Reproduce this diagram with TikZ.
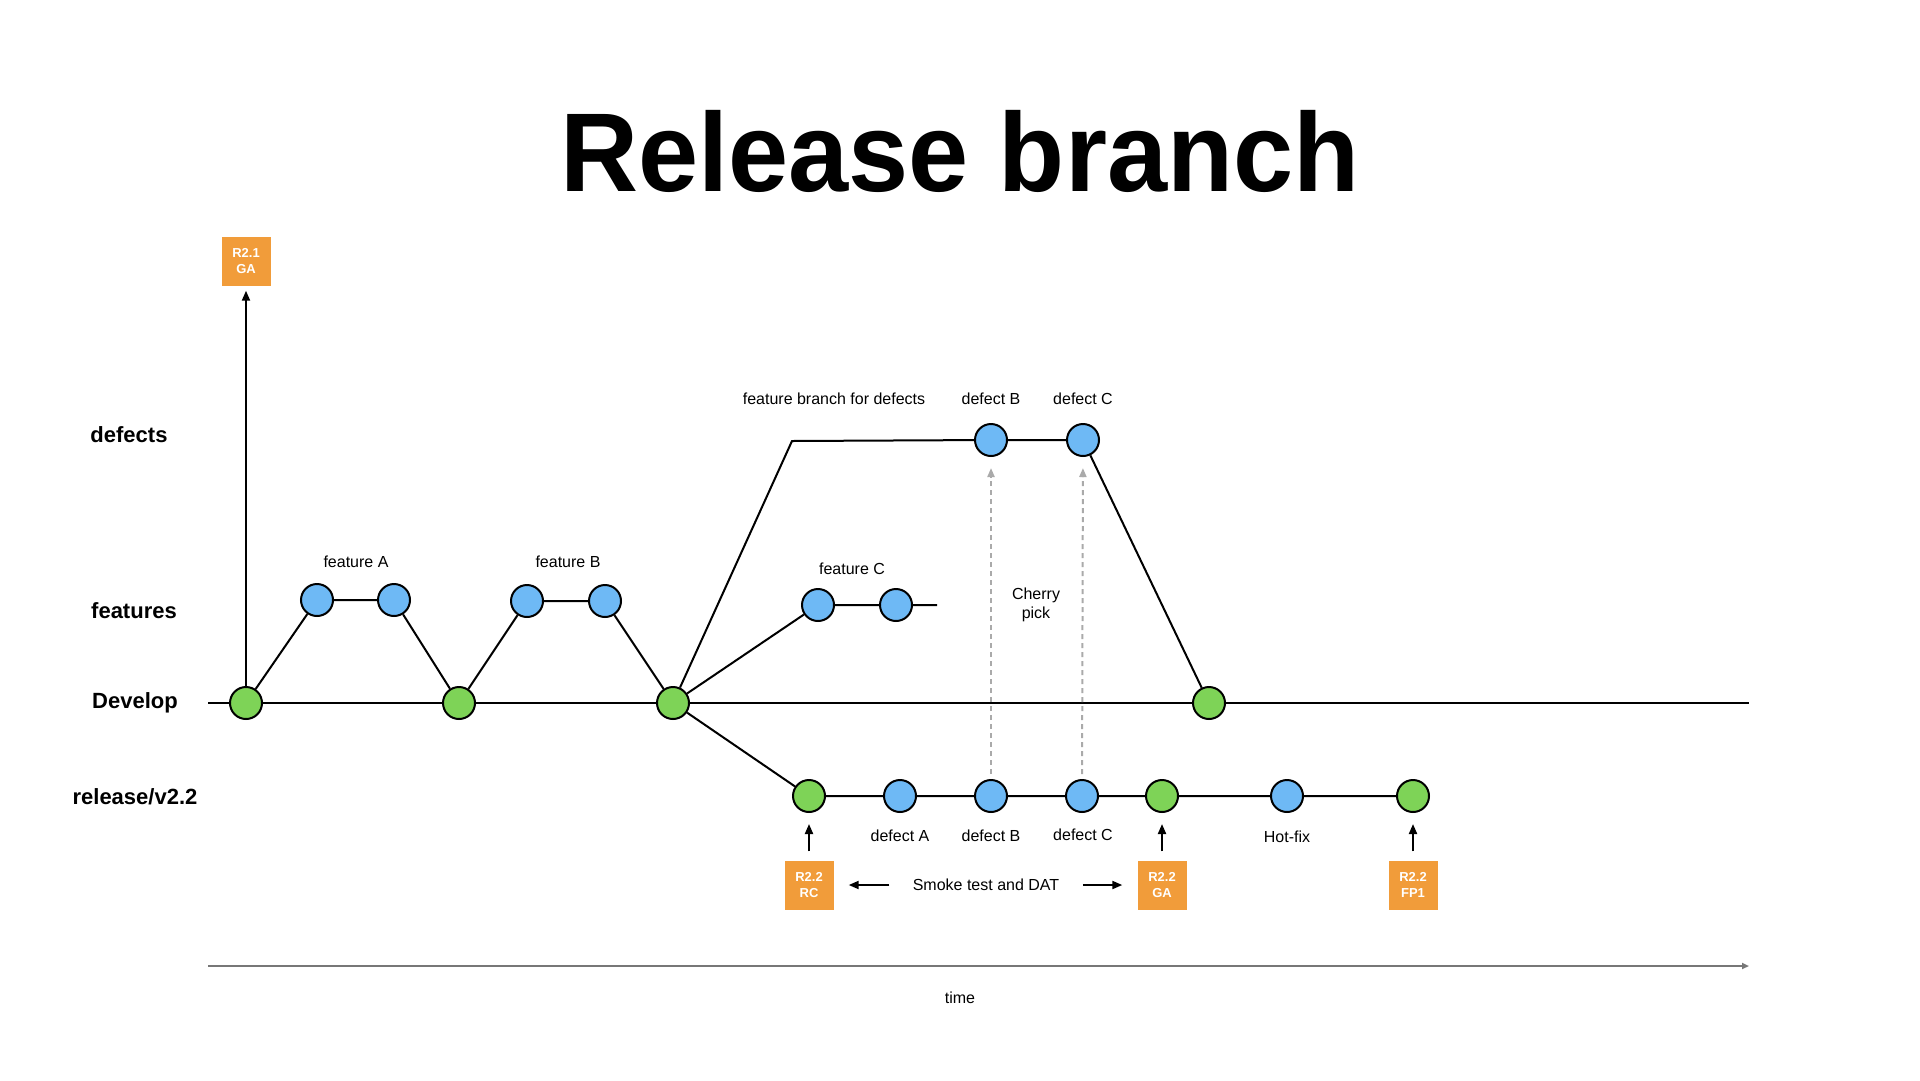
\documentclass[tikz,border=0pt]{standalone}
\usepackage{fontspec}
\setmainfont{Liberation Sans}
\usetikzlibrary{arrows.meta}
\definecolor{fixblue}{HTML}{6EB9F5}
\definecolor{mergegreen}{HTML}{7ED357}
\definecolor{tagorange}{HTML}{F19C3A}
\definecolor{pickgray}{HTML}{AAAAAA}
\definecolor{axisgray}{HTML}{777777}
\begin{document}
\begin{tikzpicture}[x=1pt, y=-1pt,
commit/.style={circle, draw, line width=2pt, minimum size=32pt, inner sep=0pt},
fix/.style={commit, fill=fixblue},
merge/.style={commit, fill=mergegreen},
tag/.style={fill=tagorange, text=white, minimum size=49pt, inner sep=0pt, align=center, font=\fontsize{13}{16}\selectfont\bfseries},
lbl/.style={font=\fontsize{16}{18.5}\selectfont, align=center},
lane/.style={font=\fontsize{22}{26}\selectfont\bfseries},
branch/.style={line width=2pt},
arrow/.style={-{Triangle[length=10pt,width=8pt]}, line width=2pt},
pick/.style={-{Triangle[length=9pt,width=7pt]}, line width=2pt, pickgray, dash pattern=on 5pt off 4pt}
]
\useasboundingbox (0,0) rectangle (1920,1080);
\node[font=\fontsize{112}{120}\selectfont\bfseries, xscale=0.965, transform shape] (title) at (960,151) {Release branch};
\node[lane] (defects) at (129,435) {defects};
\node[lane] (features) at (134,611) {features};
\node[lane] (develop) at (135,703) {Develop};
\node[lane] (release) at (135,797) {release/v2.2};
\coordinate (devstart) at (208,703);
\coordinate (devend) at (1749,703);
\node[merge] (dev1) at (246,703) {};
\node[merge] (dev2) at (459,703) {};
\node[merge] (dev3) at (673,703) {};
\node[merge] (dev4) at (1209,703) {};
\node[fix] (featA1) at (317,600) {};
\node[fix] (featA2) at (394,600) {};
\node[fix] (featB1) at (527,601) {};
\node[fix] (featB2) at (605,601) {};
\node[fix] (featC1) at (818,605) {};
\node[fix] (featC2) at (896,605) {};
\coordinate (featCend) at (937,605);
\coordinate (defcorner) at (792,441);
\node[fix] (defB) at (991,440) {};
\node[fix] (defC) at (1083,440) {};
\node[merge] (rel1) at (809,796) {};
\node[fix] (relA) at (900,796) {};
\node[fix] (relB) at (991,796) {};
\node[fix] (relC) at (1082,796) {};
\node[merge] (rel2) at (1162,796) {};
\node[fix] (hotfix) at (1287,796) {};
\node[merge] (rel3) at (1413,796) {};
\node[lbl] at (356,562) {feature A};
\node[lbl] at (568,562) {feature B};
\node[lbl] at (852,569) {feature C};
\node[lbl] at (834,399) {feature branch for defects};
\node[lbl] at (991,399) {defect B};
\node[lbl] at (1083,399) {defect C};
\node[lbl] at (1036,605) {Cherry\\pick};
\node[lbl] at (900,836) {defect A};
\node[lbl] at (991,836) {defect B};
\node[lbl] at (1083,835) {defect C};
\node[lbl] at (1287,837) {Hot-fix};
\node[tag] (ga21) at (246,261) {R2.1\\GA};
\node[tag] (rc22) at (809,885) {R2.2\\RC};
\node[tag] (ga22) at (1162,885) {R2.2\\GA};
\node[tag] (fp22) at (1413,885) {R2.2\\FP1};
\node[lbl] (smoke) at (986,885) {Smoke test and DAT};
\coordinate (timestart) at (208,966);
\coordinate (timeend) at (1749,966);
\node[lbl] (time) at (960,998) {time};
\draw[branch] (devstart) -- (dev1) -- (dev2) -- (dev3) -- (dev4) -- (devend);
\draw[branch] (dev1) -- (featA1) -- (featA2) -- (dev2);
\draw[branch] (dev2) -- (featB1) -- (featB2) -- (dev3);
\draw[branch] (dev3) -- (featC1) -- (featC2) -- (featCend);
\draw[branch] (dev3) -- (defcorner) -- (defB) -- (defC) -- (dev4);
\draw[branch] (dev3) -- (rel1) -- (relA) -- (relB) -- (relC) -- (rel2) -- (hotfix) -- (rel3);
\draw[arrow, shorten >=5pt] (dev1) -- (ga21);
\draw[arrow, shorten <=9pt, shorten >=11pt] (rc22) -- (rel1);
\draw[arrow, shorten <=9pt, shorten >=11pt] (ga22) -- (rel2);
\draw[arrow, shorten <=9pt, shorten >=11pt] (fp22) -- (rel3);
\draw[arrow, shorten <=20pt, shorten >=15pt] (smoke.west) -- (rc22.east);
\draw[arrow, shorten <=20pt, shorten >=15pt] (smoke.east) -- (ga22.west);
\draw[pick, shorten <=5pt, shorten >=11pt] (relB) -- (defB);
\draw[pick, shorten <=5pt, shorten >=11pt] (relC) -- (defC);
\draw[axisgray, line width=2pt, -{Triangle[length=7pt,width=6pt]}] (timestart) -- (timeend);
\end{tikzpicture}
\end{document}
